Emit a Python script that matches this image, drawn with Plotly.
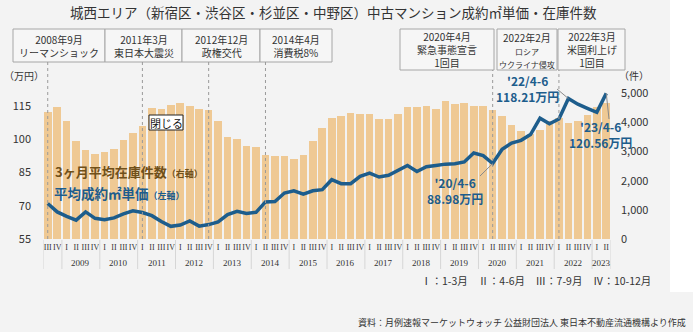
import plotly.graph_objects as go

# Quarterly periods: 2008 Q3 .. 2023 Q2
years = list(range(2008, 2024))
periods = [(y, q) for y in years for q in (1, 2, 3, 4)
           if (y, q) >= (2008, 3) and (y, q) <= (2023, 2)]
quarter_names = {1: "I", 2: "II", 3: "III", 4: "IV"}
quarter_labels = [quarter_names[q] for _, q in periods]
year_labels = [str(y) for y in range(2009, 2024)]

# 3-month average inventory (units, right axis)
inventory = [
    4370, 4510,
    4030, 3370, 3050, 2920,
    3000, 3090, 3400, 3650,
    3890, 4480, 4460, 4600,
    4670, 4560, 4460, 4430,
    4030, 3510, 3430, 3200,
    3160, 2880, 2860, 2830,
    2750, 2880, 3360, 3820,
    4160, 4220, 4310, 4290,
    4280, 4130, 4120, 4280,
    4540, 4510, 4560, 4460,
    4740, 4630, 4670, 4560,
    4560, 4430, 4220, 3910,
    3710, 3600, 3740, 4030,
    4150, 3990, 4030, 4260,
    4540, 4660,
]

# Average contract price per m2 (10k yen, left axis)
price = [
    71.0, 67.2,
    65.2, 63.5, 67.2, 64.3,
    63.7, 64.5, 66.3, 67.7,
    66.9, 65.5, 62.9, 60.7,
    61.3, 63.1, 60.8, 61.5,
    62.7, 66.0, 67.5, 66.5,
    67.0, 71.7, 71.9, 75.7,
    76.7, 75.2, 76.7, 77.2,
    81.7, 79.9, 79.9, 83.2,
    84.7, 82.9, 83.7, 85.7,
    88.1, 85.4, 87.5, 88.1,
    88.7, 88.9, 89.7, 93.7,
    92.5, 88.98, 95.4, 98.2,
    99.4, 102.0, 109.4, 106.9,
    109.0, 118.21, 115.7, 113.8,
    112.0, 120.56,
]

# Events marked with dashed lines
events = [
    ((2008, 3), "2008年9月<br>リーマンショック"),
    ((2011, 1), "2011年3月<br>東日本大震災"),
    ((2012, 4), "2012年12月<br>政権交代"),
    ((2014, 2), "2014年4月<br>消費税8%"),
    ((2020, 2), "2020年4月<br>緊急事態宣言<br>1回目"),
    ((2022, 1), "2022年2月<br><span style='font-size:8px'>ロシア<br>ウクライナ侵攻</span>"),
    ((2022, 1), "2022年3月<br>米国利上げ<br>1回目"),
]
event_boxes = [  # pixel boxes (x0, x1, y0, y1)
    (13, 105, 29, 62), (105, 182, 29, 62), (182, 260, 29, 62), (260, 332, 29, 62),
    (400, 494, 29, 70), (497, 557, 29, 70), (558, 625, 29, 70),
]

# Highlighted values
callouts = [
    ((2020, 2), "'20/4-6<br>88.98万円", (455, 190), (480, 176)),
    ((2022, 2), "'22/4-6<br>118.21万円", (527, 88), (557, 89)),
    ((2023, 2), "'23/4-6<br>120.56万円", (600, 134), (609, 119)),
]

W, H = 693, 332
ML, MR, MT, MB = 43, 82, 64, 93
PW, PH = W - ML - MR, H - MT - MB
Y1_MAX = 6000
Y2_MIN, Y2_MAX = 55, 133.77
N = len(periods)
xs = list(range(N))

BG = "#f3f3f3"
BAR = "#efc994"
BLUE = "#1d5d8c"
BROWN = "#70501a"
JP = "Noto Sans CJK JP"


def xp(px):
    return (px - ML) / PW


def yp(py):
    return (MT + PH - py) / PH


def x_data(px):
    return (px - ML) / PW * N - 0.5


def y2_data(py):
    return Y2_MIN + (MT + PH - py) / PH * (Y2_MAX - Y2_MIN)


def label(px, py, text, size, color="#333", family=JP, xanchor="center", **kw):
    d = dict(xref="paper", yref="paper", x=xp(px), y=yp(py), text=text, showarrow=False,
             xanchor=xanchor, yanchor="middle",
             font=dict(family=family, size=size, color=color))
    d.update(kw)
    return d


fig = go.Figure()
fig.add_trace(go.Bar(x=xs, y=inventory, marker=dict(color=BAR, line=dict(width=0)),
                     width=0.8, yaxis="y", hoverinfo="y"))
fig.add_trace(go.Scatter(x=xs, y=price, mode="lines", line=dict(color=BLUE, width=3.5),
                         yaxis="y2", hoverinfo="y"))

shapes = []
annotations = []

# right-hand white strip beside the chart
shapes.append(dict(type="rect", xref="paper", yref="paper", x0=xp(670), x1=xp(W + 5),
                   y0=yp(292), y1=yp(-5), fillcolor="white", line=dict(width=0), layer="below"))

# event boxes and dashed markers
for (per, text), (x0, x1, y0, y1) in zip(events, event_boxes):
    shapes.append(dict(type="rect", xref="paper", yref="paper", x0=xp(x0), x1=xp(x1),
                       y0=yp(y1), y1=yp(y0), fillcolor="#f6f6f6",
                       line=dict(color="#a6a6a6", width=1)))
    annotations.append(label((x0 + x1) / 2, (y0 + y1) / 2 + 0.5, text, 10, align="center"))
for k in range(6):
    i = periods.index(events[k][0])
    shapes.append(dict(type="line", xref="x", yref="paper", x0=i, x1=i, y0=0,
                       y1=yp(event_boxes[k][3]),
                       line=dict(color="#9a9a9a", width=1, dash="dot")))

# year separators and labels under the axis
bounds = [-0.5] + [i - 0.5 for i, (y, q) in enumerate(periods) if q == 1 and i > 0] + [N - 0.5]
for b in bounds:
    shapes.append(dict(type="line", xref="x", yref="paper", x0=b, x1=b, y0=yp(240),
                       y1=yp(269), line=dict(color="#d6d6d6", width=1)))
for yl in year_labels:
    idx = [i for i, (y, q) in enumerate(periods) if str(y) == yl]
    annotations.append(dict(xref="x", yref="paper", x=sum(idx) / len(idx), y=yp(263),
                            xanchor="center", yanchor="middle",
                            text=yl, showarrow=False,
                            font=dict(family="Liberation Serif", size=9, color="#333")))

# callout labels with leader lines
for per, text, (tx, ty), (lx, ly) in callouts:
    i = periods.index(per)
    shapes.append(dict(type="line", xref="x", yref="y2", x0=x_data(lx), y0=y2_data(ly),
                       x1=i, y1=price[i], line=dict(color="#8a8a8a", width=1)))
    annotations.append(label(tx, ty, "<b>" + text + "</b>", 12, color=BLUE, align="center"))

# series captions
annotations.append(label(53, 171, "<b>3ヶ月平均在庫件数</b><b><span style='font-size:9px'>（右軸）</span></b>",
                         13, color=BROWN, xanchor="left"))
annotations.append(label(52, 193, "<b>平均成約㎡単価</b><b><span style='font-size:9px'>（左軸）</span></b>",
                         13.5, color=BLUE, xanchor="left"))

# small close button
shapes.append(dict(type="rect", xref="paper", yref="paper", x0=xp(149), x1=xp(183),
                   y0=yp(130), y1=yp(115), fillcolor="white", line=dict(color="#222", width=1)))
annotations.append(label(166, 122.5, "閉じる", 11, color="#111"))

# units
annotations.append(label(24, 75, "（万円）", 10))
annotations.append(label(634, 75, "（件）", 10))

# title, quarter key and source
annotations.append(label(333, 12, "城西エリア（新宿区・渋谷区・杉並区・中野区）中古マンション成約㎡単価・在庫件数", 13.5))
annotations.append(label(653, 280, "Ⅰ：1-3月　Ⅱ：4-6月　Ⅲ：7-9月　Ⅳ：10-12月", 10.5, xanchor="right"))
annotations.append(label(688, 322, "資料：月例速報マーケットウォッチ 公益財団法人 東日本不動産流通機構より作成",
                         9, xanchor="right"))

fig.update_layout(
    width=W, height=H,
    margin=dict(l=ML, r=MR, t=MT, b=MB, pad=0),
    paper_bgcolor=BG, plot_bgcolor=BG,
    showlegend=False, bargap=0,
    xaxis=dict(range=[-0.5, N - 0.5], tickmode="array", tickvals=xs, ticktext=quarter_labels,
               tickangle=0, ticks="", showgrid=False, zeroline=False, showline=False,
               tickfont=dict(family="Liberation Serif", size=8, color="#333"),
               ticklabelstandoff=2, fixedrange=True),
    yaxis=dict(range=[0, Y1_MAX], side="right", tickvals=[0, 1000, 2000, 3000, 4000, 5000],
               tickformat=",", showgrid=False, zeroline=False, showline=False, ticks="",
               tickfont=dict(family=JP, size=11, color="#333"), ticklabelstandoff=9),
    yaxis2=dict(range=[Y2_MIN, Y2_MAX], side="left", overlaying="y",
                tickvals=[55, 70, 85, 100, 115], showgrid=False, zeroline=False,
                showline=False, ticks="",
                tickfont=dict(family=JP, size=11, color="#333"), ticklabelstandoff=11),
    shapes=shapes, annotations=annotations,
)

fig.write_html("out.html")
